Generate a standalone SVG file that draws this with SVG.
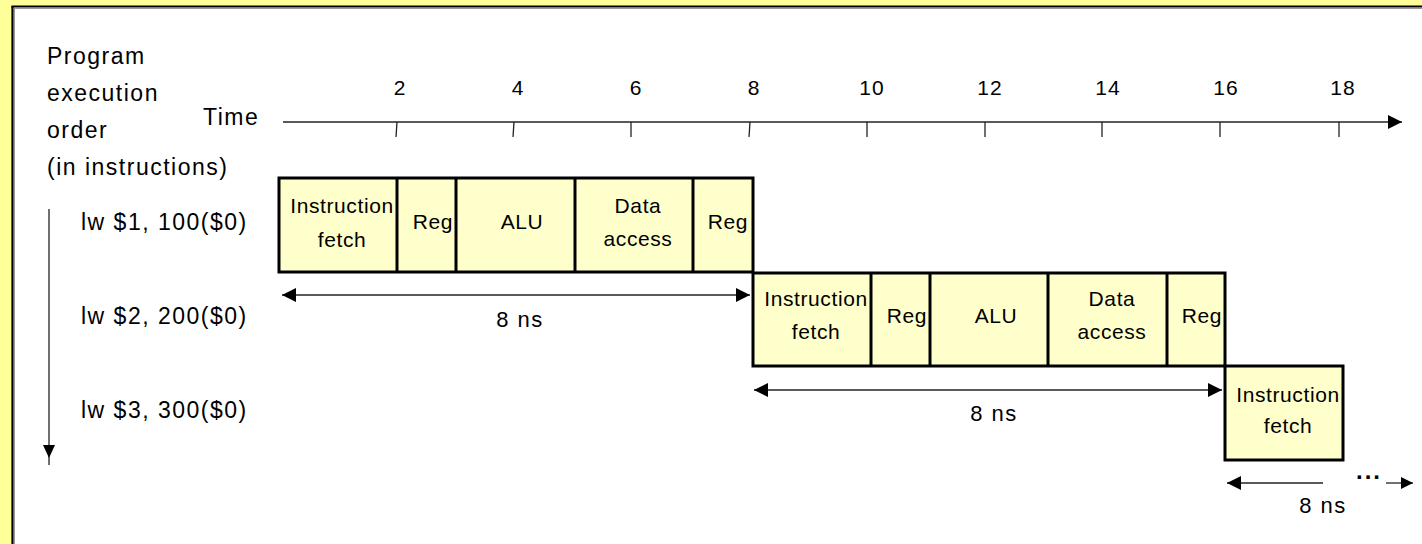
<svg xmlns="http://www.w3.org/2000/svg" width="1422" height="544" viewBox="0 0 1422 544">
  <style>
    text { font-family: "Liberation Sans", Arial, sans-serif; fill: #000; }
    .lbl { font-size: 23px; letter-spacing: 1.5px; }
    .num { font-size: 21px; letter-spacing: 1px; text-anchor: middle; }
    .box { font-size: 21px; letter-spacing: 0.6px; text-anchor: middle; }
    .ns { font-size: 22px; letter-spacing: 1.5px; text-anchor: middle; }
    .stage { fill: #ffffcc; stroke: #000; stroke-width: 3; }
    .div { stroke: #000; stroke-width: 3; }
    .thin { stroke: #222; stroke-width: 1.3; fill: none; }
  </style>
  <defs>
    <marker id="ah" viewBox="0 0 14 14" refX="14" refY="7" markerWidth="14" markerHeight="14" markerUnits="userSpaceOnUse" orient="auto-start-reverse">
      <path d="M0,0 L14,7 L0,14 Z" fill="#000"/>
    </marker>
    <marker id="ahs" viewBox="0 0 12 12" refX="12" refY="6" markerWidth="12" markerHeight="12" markerUnits="userSpaceOnUse" orient="auto-start-reverse">
      <path d="M0,0 L12,6 L0,12 Z" fill="#000"/>
    </marker>
  </defs>

  <!-- frame -->
  <rect x="0" y="0" width="1422" height="544" fill="#ffff99"/>
  <rect x="13" y="7" width="1409" height="537" fill="#fff"/>
  <line x1="14.5" y1="9" x2="14.5" y2="544" stroke="#999" stroke-width="1"/>
  <line x1="14" y1="8.5" x2="1422" y2="8.5" stroke="#999" stroke-width="1"/>
  <line x1="12.5" y1="6" x2="12.5" y2="544" stroke="#000" stroke-width="2.2"/>
  <line x1="11.5" y1="6.5" x2="1422" y2="6.5" stroke="#000" stroke-width="2.2"/>

  <!-- axis titles -->
  <g id="order-label">
    <text class="lbl" x="47" y="64">Program</text>
    <text class="lbl" x="47" y="101">execution</text>
    <text class="lbl" x="47" y="138">order</text>
    <text class="lbl" x="47" y="175">(in instructions)</text>
  </g>
  <g id="time-label">
    <text class="lbl" x="203" y="125">Time</text>
  </g>

  <!-- time axis with ticks -->
  <g id="time-axis">
    <line class="thin" x1="283" y1="122" x2="1402" y2="122" marker-end="url(#ah)"/>
    <g class="thin">
      <line x1="397" y1="122" x2="396" y2="137"/>
      <line x1="514" y1="122" x2="513" y2="137"/>
      <line x1="631" y1="122" x2="631" y2="137"/>
      <line x1="750" y1="122" x2="749" y2="137"/>
      <line x1="867" y1="122" x2="867" y2="137"/>
      <line x1="985" y1="122" x2="985" y2="137"/>
      <line x1="1102" y1="122" x2="1102" y2="137"/>
      <line x1="1220" y1="122" x2="1220" y2="137"/>
      <line x1="1339" y1="122" x2="1339" y2="137"/>
    </g>
    <text class="num" x="400" y="95">2</text>
    <text class="num" x="518" y="95">4</text>
    <text class="num" x="636" y="95">6</text>
    <text class="num" x="754" y="95">8</text>
    <text class="num" x="872" y="95">10</text>
    <text class="num" x="990" y="95">12</text>
    <text class="num" x="1108" y="95">14</text>
    <text class="num" x="1226" y="95">16</text>
    <text class="num" x="1343" y="95">18</text>
  </g>

  <!-- program order arrow -->
  <g id="order-arrow">
    <line class="thin" x1="49" y1="209" x2="49" y2="465"/>
    <path d="M43,445 L55,445 L49,458 Z" fill="#000"/>
  </g>

  <!-- instruction labels -->
  <g id="instr-1"><text class="lbl" x="81" y="230">lw $1, 100($0)</text></g>
  <g id="instr-2"><text class="lbl" x="81" y="324">lw $2, 200($0)</text></g>
  <g id="instr-3"><text class="lbl" x="81" y="418">lw $3, 300($0)</text></g>

  <!-- instruction 1 stages -->
  <g id="stages-1">
    <rect class="stage" x="279" y="178" width="474" height="94"/>
    <line class="div" x1="397" y1="178" x2="397" y2="272"/>
    <line class="div" x1="456" y1="178" x2="456" y2="272"/>
    <line class="div" x1="575" y1="178" x2="575" y2="272"/>
    <line class="div" x1="693" y1="178" x2="693" y2="272"/>
    <text class="box" x="342" y="213">Instruction</text>
    <text class="box" x="342" y="247">fetch</text>
    <text class="box" x="433" y="229">Reg</text>
    <text class="box" x="522" y="229">ALU</text>
    <text class="box" x="638" y="213">Data</text>
    <text class="box" x="638" y="246">access</text>
    <text class="box" x="728" y="229">Reg</text>
  </g>

  <!-- instruction 2 stages -->
  <g id="stages-2">
    <rect class="stage" x="753" y="273" width="472" height="93"/>
    <line class="div" x1="871" y1="273" x2="871" y2="366"/>
    <line class="div" x1="930" y1="273" x2="930" y2="366"/>
    <line class="div" x1="1048" y1="273" x2="1048" y2="366"/>
    <line class="div" x1="1167" y1="273" x2="1167" y2="366"/>
    <text class="box" x="816" y="306">Instruction</text>
    <text class="box" x="816" y="339">fetch</text>
    <text class="box" x="907" y="323">Reg</text>
    <text class="box" x="996" y="323">ALU</text>
    <text class="box" x="1112" y="306">Data</text>
    <text class="box" x="1112" y="339">access</text>
    <text class="box" x="1202" y="323">Reg</text>
  </g>

  <!-- instruction 3 stage -->
  <g id="stages-3">
    <rect class="stage" x="1225" y="366" width="118" height="94"/>
    <text class="box" x="1288" y="402">Instruction</text>
    <text class="box" x="1288" y="433">fetch</text>
  </g>

  <!-- cycle-time dimension arrows -->
  <g id="connectors">
    <line class="thin" x1="282" y1="295" x2="750" y2="295" marker-start="url(#ah)" marker-end="url(#ah)"/>
    <line class="thin" x1="754" y1="390" x2="1222" y2="390" marker-start="url(#ah)" marker-end="url(#ah)"/>
    <line class="thin" x1="1227" y1="483" x2="1323" y2="483" marker-start="url(#ah)"/>
    <line class="thin" x1="1386" y1="483" x2="1413" y2="483" marker-end="url(#ahs)"/>
  </g>
  <g id="cycle-labels">
    <text class="ns" x="520" y="327">8 ns</text>
    <text class="ns" x="994" y="421">8 ns</text>
    <text class="ns" x="1323" y="513">8 ns</text>
    <text class="ns" x="1369" y="479" style="font-weight:bold;font-size:24px;letter-spacing:2px">...</text>
  </g>
</svg>
